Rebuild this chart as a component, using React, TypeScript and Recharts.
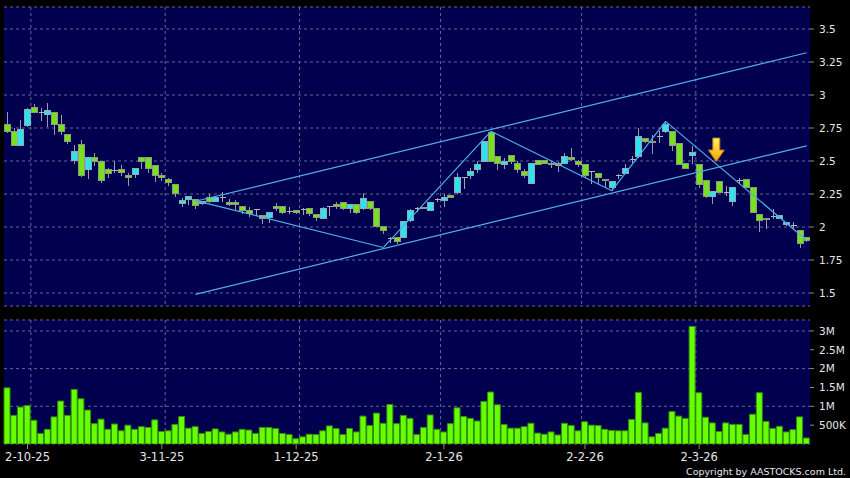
import {
	Bar,
	BarChart,
	CartesianGrid,
	ComposedChart,
	ReferenceDot,
	ReferenceLine,
	XAxis,
	YAxis,
} from "recharts";

// daily candles (HKD)
const opens = [
	2.78, 2.72, 2.62, 2.77, 2.905, 2.87, 2.85, 2.87, 2.78, 2.7,
	2.505, 2.625, 2.435, 2.53, 2.495, 2.435, 2.43, 2.435, 2.39, 2.4,
	2.525, 2.525, 2.467, 2.39, 2.357, 2.325, 2.18, 2.21, 2.212, 2.18,
	2.227, 2.19, 2.225, 2.182, 2.185, 2.152, 2.125, 2.13, 2.09, 2.075,
	2.152, 2.152, 2.117, 2.125, 2.13, 2.137, 2.095, 2.0675, 2.1575, 2.17,
	2.1875, 2.1425, 2.17, 2.1375, 2.195, 2.1375, 2.0075, 1.9125, 1.9175, 1.9175,
	2.05, 2.1375, 2.145, 2.125, 2.205, 2.2, 2.2375, 2.2625, 2.375, 2.3875,
	2.4325, 2.5, 2.7175, 2.5325, 2.475, 2.5425, 2.4825, 2.4225, 2.3325, 2.5075,
	2.505, 2.4825, 2.4825, 2.4825, 2.525, 2.5, 2.47, 2.42, 2.405, 2.3625,
	2.3, 2.3875, 2.4075, 2.5125, 2.5375, 2.67, 2.65, 2.6875, 2.72, 2.72,
	2.63, 2.48, 2.5425, 2.47, 2.355, 2.23, 2.3425, 2.2625, 2.1925, 2.35,
	2.3575, 2.3, 2.0925, 2.0675, 2.0825, 2.0675, 2.02, 2.0125, 1.975, 1.9175,
];
const highs = [
	2.875, 2.75, 2.81, 2.905, 2.93, 2.905, 2.94, 2.87, 2.845, 2.7,
	2.625, 2.66, 2.525, 2.56, 2.495, 2.445, 2.5, 2.47, 2.41, 2.445,
	2.525, 2.525, 2.467, 2.41, 2.37, 2.325, 2.22, 2.232, 2.212, 2.2,
	2.25, 2.237, 2.262, 2.212, 2.207, 2.152, 2.152, 2.137, 2.09, 2.107,
	2.182, 2.157, 2.152, 2.13, 2.142, 2.137, 2.095, 2.15, 2.16, 2.1875,
	2.1875, 2.175, 2.175, 2.2575, 2.2, 2.1375, 2.0075, 1.925, 1.9175, 2.045,
	2.1375, 2.15, 2.15, 2.1925, 2.2175, 2.25, 2.245, 2.4075, 2.3825, 2.45,
	2.5, 2.65, 2.725, 2.535, 2.525, 2.545, 2.5, 2.4425, 2.48, 2.51,
	2.51, 2.49, 2.49, 2.5625, 2.6, 2.505, 2.47, 2.425, 2.405, 2.365,
	2.3425, 2.4, 2.475, 2.5375, 2.75, 2.675, 2.7, 2.725, 2.8, 2.72,
	2.63, 2.48, 2.6125, 2.47, 2.355, 2.27, 2.345, 2.3125, 2.3, 2.375,
	2.36, 2.3, 2.0925, 2.07, 2.1375, 2.09, 2.04, 2.0375, 1.975, 1.92,
];
const lows = [
	2.71, 2.615, 2.61, 2.755, 2.87, 2.8, 2.755, 2.7, 2.7, 2.63,
	2.475, 2.38, 2.36, 2.46, 2.33, 2.375, 2.41, 2.385, 2.31, 2.375,
	2.44, 2.41, 2.34, 2.345, 2.31, 2.23, 2.153, 2.17, 2.137, 2.17,
	2.18, 2.187, 2.187, 2.157, 2.12, 2.095, 2.075, 2.08, 2.02, 2.027,
	2.12, 2.102, 2.095, 2.1, 2.09, 2.082, 2.045, 2.06, 2.0825, 2.1375,
	2.1325, 2.1075, 2.1, 2.1325, 2.13, 2.0, 1.95, 1.8825, 1.8675, 1.915,
	2.0375, 2.1125, 2.135, 2.1175, 2.1875, 2.15, 2.22, 2.25, 2.2875, 2.3625,
	2.4125, 2.495, 2.49, 2.4325, 2.4375, 2.475, 2.4125, 2.375, 2.33, 2.47,
	2.48, 2.45, 2.4175, 2.475, 2.5, 2.4575, 2.375, 2.325, 2.325, 2.3,
	2.275, 2.3625, 2.4, 2.4875, 2.525, 2.64, 2.55, 2.6375, 2.715, 2.575,
	2.47, 2.44, 2.475, 2.2925, 2.22, 2.175, 2.26, 2.2325, 2.1575, 2.325,
	2.295, 2.11, 1.9625, 1.9825, 2.0625, 2.06, 2.01, 1.975, 1.8375, 1.89,
];
const closes = [
	2.725, 2.62, 2.742, 2.893, 2.87, 2.87, 2.88, 2.775, 2.725, 2.65,
	2.57, 2.39, 2.525, 2.495, 2.35, 2.405, 2.43, 2.41, 2.375, 2.445,
	2.5, 2.445, 2.39, 2.375, 2.34, 2.257, 2.2, 2.232, 2.162, 2.195,
	2.195, 2.22, 2.225, 2.17, 2.17, 2.127, 2.1, 2.13, 2.062, 2.107,
	2.137, 2.107, 2.117, 2.107, 2.13, 2.1, 2.07, 2.1425, 2.1575, 2.1575,
	2.1425, 2.1675, 2.1125, 2.2175, 2.1375, 2.0075, 1.975, 1.9125, 1.8875, 2.0425,
	2.125, 2.1375, 2.14, 2.1875, 2.205, 2.225, 2.225, 2.375, 2.375, 2.4175,
	2.475, 2.645, 2.5, 2.48, 2.5, 2.4925, 2.4325, 2.3875, 2.48, 2.475,
	2.4825, 2.47, 2.4675, 2.5375, 2.5125, 2.47, 2.3875, 2.42, 2.375, 2.35,
	2.3425, 2.3875, 2.4425, 2.5125, 2.6825, 2.645, 2.645, 2.6875, 2.775, 2.6175,
	2.475, 2.4425, 2.5625, 2.325, 2.2325, 2.2675, 2.2625, 2.2625, 2.3, 2.35,
	2.3, 2.1125, 2.05, 2.0575, 2.0825, 2.085, 2.0375, 2.0125, 1.875, 1.9,
];
// volume in millions of shares
const volumes = [
	1.49, 0.76, 0.98, 1.02, 0.63, 0.28, 0.39, 0.72, 1.14, 0.76,
	1.45, 1.2, 0.9, 0.54, 0.66, 0.39, 0.53, 0.35, 0.5, 0.39,
	0.46, 0.44, 0.64, 0.33, 0.35, 0.52, 0.73, 0.42, 0.46, 0.28,
	0.33, 0.4, 0.32, 0.26, 0.32, 0.39, 0.37, 0.28, 0.44, 0.44,
	0.41, 0.28, 0.25, 0.14, 0.19, 0.26, 0.25, 0.35, 0.48, 0.41,
	0.25, 0.41, 0.32, 0.74, 0.49, 0.82, 0.55, 1.05, 0.54, 0.76,
	0.68, 0.25, 0.44, 0.77, 0.39, 0.32, 0.54, 0.96, 0.73, 0.68,
	0.61, 1.13, 1.38, 1.04, 0.52, 0.42, 0.42, 0.46, 0.55, 0.29,
	0.26, 0.32, 0.24, 0.55, 0.49, 0.35, 0.59, 0.5, 0.49, 0.39,
	0.36, 0.35, 0.35, 0.65, 1.37, 0.56, 0.19, 0.28, 0.42, 0.86,
	0.74, 0.68, 3.12, 1.36, 0.71, 0.56, 0.33, 0.56, 0.52, 0.52,
	0.25, 0.79, 1.36, 0.6, 0.41, 0.47, 0.32, 0.38, 0.72, 0.16,
];

const dateTicks = [3, 23, 43, 65, 86, 103];
const dateLabels = ["2-10-25", "3-11-25", "1-12-25", "2-1-26", "2-2-26", "2-3-26"];
// month boundaries (grid sits after these candles)
const monthEnds = [3, 23, 43, 64, 85, 102];
const priceTicks = [1.5, 1.75, 2, 2.25, 2.5, 2.75, 3, 3.25, 3.5];
const volTicks = [0.5, 1, 1.5, 2, 2.5, 3];

// drawn annotations
const channelUpper = [
	{ x: 28, y: 2.195 },
	{ x: 119, y: 3.32 },
];
const channelLower = [
	{ x: 28, y: 1.49 },
	{ x: 119, y: 2.615 },
];
const zigzag = [
	{ x: 28, y: 2.2 },
	{ x: 56, y: 1.845 },
	{ x: 72, y: 2.725 },
	{ x: 90, y: 2.275 },
	{ x: 98, y: 2.8 },
	{ x: 119, y: 1.9 },
];
const arrowAt = { x: 106, y: 2.583 };

const data = opens.map((open, i) => ({
	i,
	open,
	high: highs[i],
	low: lows[i],
	close: closes[i],
	range: [lows[i], highs[i]],
	vol: volumes[i],
}));

const NAVY = "#00004f";
const GRID = "#66669a";
const LINE = "#52aeea";
const TEXT = "#e6e6e6";
const FONT = "DejaVu Sans";

const monthGrid = ({ xAxis, offset }: any) => {
	const scale = xAxis?.scale;
	if (typeof scale === "function" && typeof scale.bandwidth === "function") {
		return monthEnds.map((i) => scale(i) + scale.bandwidth());
	}
	return monthEnds.map((i) => offset.left + ((i + 1) * offset.width) / data.length);
};

function Candle(props: any) {
	const { x, y, width, height, payload } = props;
	if (!payload) return null;
	const { open, close, high, low } = payload;
	const top = Math.min(y, y + height);
	const bottom = Math.max(y, y + height);
	const span = high - low;
	const k = span > 0 ? (bottom - top) / span : 0;
	const py = (v: number) => top + (high - v) * k;
	const cx = Math.round(x + width / 2) + 0.5;

	if (open === close) {
		return (
			<g shapeRendering="crispEdges">
				<line x1={cx} x2={cx} y1={py(high)} y2={py(low)} stroke="#a4a4ac" />
				<line x1={cx - 3} x2={cx + 3} y1={py(open)} y2={py(open)} stroke="#b4b4bc" />
			</g>
		);
	}
	const up = close > open;
	const bTop = py(Math.max(open, close));
	const bH = Math.max(1, py(Math.min(open, close)) - bTop);
	return (
		<g shapeRendering="crispEdges">
			<line x1={cx} x2={cx} y1={py(high)} y2={py(low)} stroke="#9a9aa4" />
			<rect
				x={cx - 3}
				y={bTop}
				width={6}
				height={bH}
				fill={up ? "#2ee2f0" : "#78e01e"}
				stroke={up ? "#8fa9b6" : "#8a9c7c"}
				strokeWidth={1}
			/>
		</g>
	);
}

function Arrow({ cx, cy }: any) {
	const x = cx - 3;
	return (
		<g>
			<defs>
				<linearGradient id="arrowFill" x1="0" y1="0" x2="0" y2="1">
					<stop offset="0%" stopColor="#fff46c" />
					<stop offset="100%" stopColor="#f2a000" />
				</linearGradient>
			</defs>
			<polygon
				points={`${x - 3.5},${cy - 12} ${x + 3.5},${cy - 12} ${x + 3.5},${cy} ${x + 8},${cy} ${x},${cy + 11.5} ${x - 8},${cy} ${x - 3.5},${cy}`}
				fill="url(#arrowFill)"
				stroke="#c27a00"
				strokeWidth={1}
			/>
		</g>
	);
}

const volLabel = (v: number) => (v < 1 ? `${Math.round(v * 1000)}K` : `${v}M`);

export default function App() {
	return (
		<div
			style={{
				position: "absolute",
				left: 0,
				top: 0,
				width: 850,
				height: 478,
				background: "#000",
				overflow: "hidden",
			}}
		>
			<div style={{ position: "absolute", left: 0, top: 0 }}>
				<ComposedChart
					width={850}
					height={313}
					data={data}
					margin={{ top: 7, right: 0, bottom: 7, left: 4 }}
				>
					<CartesianGrid
						fill={NAVY}
						fillOpacity={1}
						stroke={GRID}
						strokeDasharray="3 3"
						verticalCoordinatesGenerator={monthGrid}
					/>
					<XAxis type="category" dataKey="i" hide />
					<YAxis
						orientation="right"
						width={40}
						type="number"
						domain={[1.40152, 3.66667]}
						ticks={priceTicks}
						allowDataOverflow
						axisLine={false}
						tickSize={4}
						tickMargin={5}
						tickLine={{ stroke: "#8a8a8a" }}
						tick={{ fill: TEXT, fontSize: 10.5, fontFamily: FONT }}
					/>
					<Bar
						dataKey="range"
						barSize={6}
						shape={(p: any) => <Candle {...p} />}
						isAnimationActive={false}
					/>
					<ReferenceLine segment={channelUpper} stroke={LINE} strokeWidth={1.2} />
					<ReferenceLine segment={channelLower} stroke={LINE} strokeWidth={1.2} />
					{zigzag.slice(1).map((p, idx) => (
						<ReferenceLine
							key={`zz-${idx}`}
							segment={[zigzag[idx], p]}
							stroke={LINE}
							strokeWidth={1.2}
						/>
					))}
					<ReferenceDot
						x={arrowAt.x}
						y={arrowAt.y}
						r={8}
						shape={(p: any) => <Arrow {...p} />}
					/>
				</ComposedChart>
			</div>
			<div style={{ position: "absolute", left: 0, top: 313 }}>
				<BarChart
					width={850}
					height={165}
					data={data}
					margin={{ top: 7, right: 0, bottom: 0, left: 4 }}
				>
					<CartesianGrid
						fill={NAVY}
						fillOpacity={1}
						stroke={GRID}
						strokeDasharray="3 3"
						verticalCoordinatesGenerator={monthGrid}
					/>
					<XAxis
						type="category"
						dataKey="i"
						height={34}
						ticks={dateTicks}
						interval={0}
						tickFormatter={(v) => dateLabels[dateTicks.indexOf(v)] ?? ""}
						axisLine={false}
						tickSize={5}
						tickMargin={4}
						tickLine={{ stroke: "#8a8a8a" }}
						tick={{ fill: TEXT, fontSize: 11.5, fontFamily: FONT }}
					/>
					<YAxis
						orientation="right"
						width={40}
						type="number"
						domain={[0, 3.29]}
						ticks={volTicks}
						allowDataOverflow
						tickFormatter={volLabel}
						axisLine={false}
						tickSize={4}
						tickMargin={5}
						tickLine={{ stroke: "#8a8a8a" }}
						tick={{ fill: TEXT, fontSize: 10.5, fontFamily: FONT }}
					/>
					<Bar
						dataKey="vol"
						barSize={6}
						fill="#66ff00"
						stroke="#348c0c"
						strokeWidth={1}
						isAnimationActive={false}
					/>
				</BarChart>
			</div>
			<svg
				width={850}
				height={478}
				style={{ position: "absolute", left: 0, top: 0, pointerEvents: "none" }}
			>
				<text
					x={846}
					y={475}
					textAnchor="end"
					fill={TEXT}
					fontSize={9.5}
					fontFamily={FONT}
				>
					Copyright by AASTOCKS.com Ltd.
				</text>
			</svg>
		</div>
	);
}
